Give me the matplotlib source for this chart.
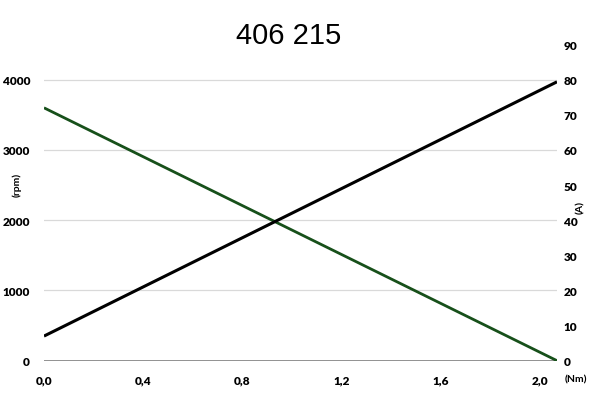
import matplotlib
matplotlib.use('Agg')
import matplotlib.pyplot as plt

torque = [0.0, 2.07]          # Nm
speed = [3600, 0]             # rpm
current = [7.0, 79.4]         # A

x_ticks = [0.0, 0.4, 0.8, 1.2, 1.6, 2.0]
x_labels = ['0,0', '0,4', '0,8', '1,2', '1,6', '2,0']
rpm_ticks = [0, 1000, 2000, 3000, 4000]
amp_ticks = [0, 10, 20, 30, 40, 50, 60, 70, 80, 90]

plt.rcParams['font.family'] = ['Lato', 'DejaVu Sans']

fig = plt.figure(figsize=(6, 4.02), dpi=100)
ax = fig.add_axes([0.0733, 0.1003, 0.855, 0.7863])
ax2 = ax.twinx()

ax.plot(torque, speed, color='#17501a', lw=2.0, solid_capstyle='butt', zorder=3)
ax2.plot(torque, current, color='black', lw=2.2, solid_capstyle='butt', zorder=4)

ax.set_xlim(0, 2.07)
ax.set_ylim(0, 4500)
ax2.set_ylim(0, 90)

ax.set_xticks(x_ticks)
ax.set_xticklabels(x_labels)
ax.set_yticks(rpm_ticks)
ax2.set_yticks(amp_ticks)

for t in rpm_ticks[1:]:
    ax.axhline(t, color='#d9d9d9', lw=0.9, zorder=1)
ax.axhline(0, color='#7f7f7f', lw=1.2, zorder=2)

for a in (ax, ax2):
    for s in a.spines.values():
        s.set_visible(False)
    a.tick_params(length=0)

ax.tick_params(axis='y', pad=10, labelsize=8.5)
ax.tick_params(axis='x', pad=10, labelsize=8.5)
ax2.tick_params(axis='y', pad=5, labelsize=8.5)
for lab in ax.get_xticklabels() + ax.get_yticklabels() + ax2.get_yticklabels():
    lab.set_fontweight('heavy')

fig.text(0.481, 0.91, '406 215', ha='center', va='center', fontsize=21,
         family='Liberation Sans')
fig.text(17 / 600, 1 - 185 / 402, '(rpm)', rotation=90, ha='center', va='center',
         fontsize=7.5, fontweight='bold')
fig.text(581 / 600, 1 - 207 / 402, '(A)', rotation=90, ha='center', va='center',
         fontsize=7.5, fontweight='bold')
fig.text(576 / 600, 1 - 380 / 402, '(Nm)', ha='center', va='center',
         fontsize=7.5, fontweight='bold')

fig.savefig('out.png', dpi=100)
